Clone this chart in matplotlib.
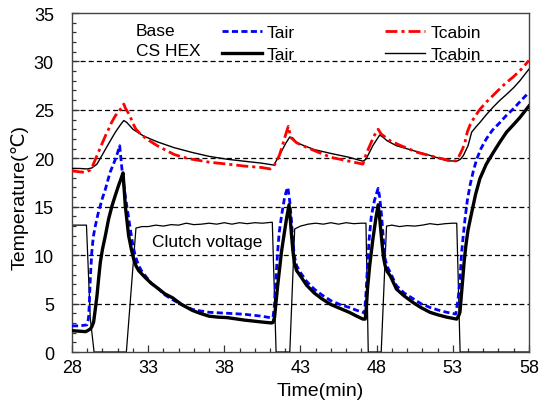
import numpy as np
import matplotlib.pyplot as plt
from matplotlib.lines import Line2D
from matplotlib.ticker import MultipleLocator

plt.rcParams['font.family'] = ['Liberation Sans', 'DejaVu Sans']

# Base - Tair (blue dashed)
base_tair_t = [28.0, 28.5, 28.98, 29.05, 29.1, 29.15, 29.2, 29.3, 29.4, 29.53, 29.7, 29.86,
               30.0, 30.19, 30.5, 30.85, 31.0, 31.13, 31.28, 31.5, 31.83, 32.0, 32.16, 32.38,
               32.6, 32.8, 33.2, 33.7, 34.1, 34.6, 35.2, 35.9, 36.4, 37.0, 38.2, 39.3,
               40.45, 41.0, 41.2, 41.3, 41.37, 41.5, 41.6, 41.75, 41.94, 42.05, 42.17, 42.3,
               42.4, 42.5, 42.6, 42.75, 43.0, 43.4, 43.9, 44.4, 45.0, 45.6, 46.2, 46.7,
               47.1, 47.2, 47.3, 47.4, 47.5, 47.65, 47.85, 48.0, 48.1, 48.2, 48.33, 48.45,
               48.56, 48.7, 48.9, 49.3, 49.8, 50.4, 50.9, 51.5, 52.0, 52.6, 53.2, 53.35,
               53.47, 53.58, 53.7, 53.8, 53.95, 54.13, 54.35, 54.57, 54.85, 55.2, 55.6, 56.1,
               56.5, 56.97, 57.5, 58.0]
base_tair = [2.7, 2.7, 2.8, 3.2, 3.75, 5.5, 7.5, 10.3, 11.9, 13.0, 14.2, 15.1,
             15.9, 16.8, 18.55, 19.9, 20.6, 21.3, 18.9, 16.1, 12.7, 11.0, 9.9, 8.9,
             8.3, 7.9, 7.1, 6.5, 5.9, 5.4, 4.9, 4.4, 4.25, 4.1, 4.0, 3.9,
             3.7, 3.55, 3.6, 5.0, 7.2, 10.3, 12.3, 14.0, 15.8, 16.5, 17.0, 15.5,
             13.7, 11.5, 9.9, 8.9, 8.2, 7.3, 6.5, 5.9, 5.3, 4.9, 4.6, 4.3,
             4.1, 4.0, 6.0, 8.9, 11.5, 14.0, 15.6, 16.4, 16.9, 16.0, 14.0, 11.5,
             9.6, 8.8, 8.2, 6.85, 6.1, 5.5, 5.0, 4.6, 4.35, 4.1, 3.92, 5.5,
             7.5, 10.3, 12.2, 13.7, 15.6, 17.2, 18.7, 19.9, 21.0, 22.0, 22.9, 23.7,
             24.4, 25.1, 26.0, 26.8]

# CS HEX - Tair (thick black)
hex_tair_t = [28.0, 28.5, 28.9, 29.2, 29.3, 29.42, 29.52, 29.64, 29.75, 29.86, 30.0, 30.19,
              30.4, 30.63, 30.85, 31.06, 31.2, 31.35, 31.5, 31.72, 31.9, 32.05, 32.2, 32.38,
              32.8, 33.2, 33.7, 34.1, 34.6, 35.2, 35.9, 36.4, 37.0, 37.6, 38.2, 39.3,
              40.45, 41.1, 41.2, 41.3, 41.37, 41.5, 41.6, 41.75, 41.94, 42.1, 42.25, 42.33,
              42.4, 42.5, 42.6, 42.75, 43.0, 43.4, 43.9, 44.4, 45.0, 45.6, 46.2, 46.7,
              47.1, 47.25, 47.32, 47.4, 47.55, 47.75, 47.95, 48.1, 48.22, 48.33, 48.45, 48.56,
              48.7, 48.9, 49.3, 49.8, 50.4, 50.9, 51.5, 52.0, 52.6, 53.26, 53.4, 53.47,
              53.55, 53.65, 53.75, 53.86, 54.0, 54.24, 54.5, 54.78, 55.2, 55.66, 56.1, 56.53,
              57.0, 57.4, 58.0]
hex_tair = [2.2, 2.15, 2.1, 2.37, 2.6, 3.1, 4.3, 5.8, 7.6, 9.26, 10.6, 12.0,
            13.7, 15.1, 16.2, 17.2, 17.8, 18.5, 15.1, 12.0, 10.6, 9.6, 8.9, 8.4,
            7.7, 7.1, 6.5, 6.0, 5.6, 4.9, 4.3, 4.0, 3.7, 3.6, 3.55, 3.3,
            3.1, 3.0, 3.05, 3.6, 4.75, 6.8, 8.2, 10.3, 12.3, 13.9, 15.2, 13.8,
            12.3, 10.5, 9.2, 8.4, 7.85, 6.9, 6.1, 5.5, 4.9, 4.5, 4.1, 3.7,
            3.4, 3.4, 4.5, 6.5, 9.0, 11.6, 13.8, 15.2, 13.5, 11.6, 9.8, 8.9,
            8.3, 7.85, 6.5, 5.8, 5.1, 4.6, 4.1, 3.85, 3.6, 3.4, 3.8, 4.1,
            5.6, 7.5, 9.4, 11.0, 12.6, 14.4, 16.3, 17.9, 19.4, 20.6, 21.7, 22.7,
            23.5, 24.2, 25.4]

# Base - Tcabin (red dash-dot)
base_tcab_t = [28.0, 28.5, 28.9, 29.2, 29.35, 29.5, 29.7, 29.86, 30.19, 30.4, 30.6, 30.85,
               31.1, 31.3, 31.4, 31.5, 31.8, 32.0, 32.2, 32.5, 32.9, 33.6, 34.2, 34.7,
               35.3, 35.9, 37.0, 38.2, 39.3, 40.45, 41.0, 41.25, 41.4, 41.6, 41.8, 41.94,
               42.1, 42.2, 42.3, 42.4, 42.75, 43.3, 43.9, 45.0, 46.2, 47.1, 47.2, 47.35,
               47.55, 47.8, 48.0, 48.1, 48.3, 48.9, 49.6, 50.7, 51.9, 53.0, 53.25, 53.5,
               53.65, 53.8, 53.95, 54.15, 54.35, 54.75, 55.2, 55.65, 56.1, 56.5, 56.97, 57.5, 58.0]
base_tcab = [18.7, 18.6, 18.55, 18.8, 19.2, 19.75, 20.5, 21.1, 22.3, 23.0, 23.7, 24.4,
             24.9, 25.3, 25.6, 25.2, 24.4, 23.6, 23.0, 22.5, 22.0, 21.3, 20.8, 20.4,
             20.1, 19.9, 19.6, 19.4, 19.2, 19.05, 18.9, 19.2, 19.6, 20.25, 21.2, 22.0,
             22.8, 23.3, 22.6, 22.1, 21.6, 21.2, 20.8, 20.1, 19.7, 19.4, 19.9, 20.6,
             21.3, 22.2, 22.8, 23.0, 22.5, 21.8, 21.3, 20.6, 20.1, 19.7, 19.75, 20.5,
             21.0, 21.65, 22.7, 23.5, 24.05, 25.0, 25.8, 26.5, 27.2, 27.8, 28.4, 29.2, 30.1]

# CS HEX - Tcabin (thin black)
hex_tcab_t = [28.0, 28.5, 29.0, 29.3, 29.64, 29.97, 30.4, 30.85, 31.2, 31.4, 31.6, 32.0,
              32.7, 33.6, 34.7, 35.9, 37.0, 38.2, 39.3, 40.45, 41.25, 41.6, 42.05, 42.3,
              42.5, 42.75, 43.9, 45.0, 46.2, 47.1, 47.3, 47.75, 48.2, 48.4, 48.7, 49.3,
              50.4, 51.5, 52.6, 53.26, 53.5, 53.7, 53.85, 54.0, 54.12, 54.24, 54.5, 54.78,
              55.2, 55.66, 56.1, 56.53, 57.0, 57.4, 58.0]
hex_tcab = [18.95, 18.95, 18.9, 19.0, 19.4, 20.3, 21.5, 22.7, 23.5, 23.9, 23.7, 23.0,
            22.3, 21.7, 21.1, 20.6, 20.2, 19.9, 19.7, 19.5, 19.3, 20.25, 21.6, 22.2,
            22.1, 21.6, 20.9, 20.5, 20.1, 19.7, 19.9, 21.3, 22.4, 22.2, 21.8, 21.3,
            20.8, 20.3, 19.75, 19.7, 19.9, 20.3, 20.8, 21.3, 22.0, 22.7, 23.2, 23.7,
            24.5, 25.3, 26.0, 26.6, 27.3, 28.0, 29.2]

# clutch voltage trace (thin black)
clutch_t = [28.0, 28.95, 29.2, 29.45, 31.57, 32.2, 32.6, 33.0, 33.5, 34.0, 34.5, 35.0,
            35.5, 36.0, 36.5, 37.0, 37.5, 38.0, 38.5, 39.0, 39.5, 40.0, 40.5, 41.15,
            41.4, 42.3, 42.62, 43.0, 43.5, 44.0, 44.5, 45.0, 45.5, 46.0, 46.5, 47.0,
            47.3, 47.45, 48.3, 48.65, 49.0, 49.5, 50.0, 50.5, 51.0, 51.5, 52.0, 52.5,
            53.0, 53.26, 53.48, 58.0]
clutch_v = [13.1, 13.1, 3.5, 0, 0, 12.8, 12.95, 12.95, 13.1, 13.0, 13.15, 13.1,
            13.3, 13.15, 13.2, 13.3, 13.2, 13.35, 13.2, 13.35, 13.25, 13.35, 13.3, 13.4,
            0, 0, 12.7, 13.0, 13.2, 13.3, 13.2, 13.35, 13.2, 13.35, 13.25, 13.3,
            13.3, 0, 0, 13.0, 13.1, 12.95, 13.05, 13.0, 13.1, 13.25, 13.15, 13.25,
            13.3, 13.3, 0, 0]

x_ticks = [28, 33, 38, 43, 48, 53, 58]

fig = plt.figure(figsize=(5.47, 4.06), dpi=100)
ax = fig.add_axes([0.1316, 0.1305, 0.8354, 0.835])

for y in [5, 10, 15, 20, 25, 30]:
    ax.axhline(y, color='k', lw=0.9, linestyle=(0, (4, 2.5)), zorder=1)

blue_ls = (0, (2.2, 1.2))
red_ls = (0, (4.3, 1.45, 1.1, 1.45))
ax.plot(clutch_t, clutch_v, color='k', lw=0.9, zorder=2)
ax.plot(hex_tcab_t, hex_tcab, color='k', lw=1.0, zorder=3)
ax.plot(base_tcab_t, base_tcab, color='#ff0000', lw=2.0, linestyle=red_ls, zorder=3)
ax.plot(base_tair_t, base_tair, color='#0000ff', lw=2.0, linestyle=blue_ls, zorder=4)
ax.plot(hex_tair_t, hex_tair, color='k', lw=2.4, zorder=5)

ax.set_xlim(28, 58)
ax.set_ylim(0, 35)
ax.set_xticks(x_ticks)
ax.xaxis.set_minor_locator(MultipleLocator(1))
ax.yaxis.set_major_locator(MultipleLocator(5))
ax.yaxis.set_minor_locator(MultipleLocator(1))
ax.tick_params(which='both', direction='in', labelsize=13, width=0.9, color='#333333')
ax.tick_params(which='major', length=5)
ax.tick_params(which='minor', length=3)
ax.tick_params(axis='y', pad=13)
ax.tick_params(axis='x', pad=5)
for s in ax.spines.values():
    s.set_color('#444444')
    s.set_linewidth(1.0)

ax.set_xlabel('Time(min)', fontsize=14)
ax.set_ylabel('Temperature(℃)', fontsize=14)
ax.xaxis.set_label_coords(0.543, -0.088)
ax.yaxis.set_label_coords(-0.094, 0.46)

ax.text(0.14, 0.947, 'Base', transform=ax.transAxes, fontsize=12.5, va='center')
ax.text(0.14, 0.889, 'CS HEX', transform=ax.transAxes, fontsize=12.5, va='center')
ax.text(36.86, 11.46, 'Clutch voltage', fontsize=12.5, ha='center', va='center')

handles = [Line2D([], [], color='#0000ff', lw=2.0, linestyle=blue_ls),
           Line2D([], [], color='k', lw=2.4),
           Line2D([], [], color='#ff0000', lw=2.0, linestyle=red_ls),
           Line2D([], [], color='k', lw=1.0)]
labels = ['Tair', 'Tair', 'Tcabin', 'Tcabin']
ax.legend(handles, labels, ncol=2, loc='upper left', bbox_to_anchor=(0.328, 0.965),
          frameon=False, fontsize=12.5, borderpad=0, borderaxespad=0,
          handlelength=2.3, handletextpad=0.3, columnspacing=5.2, labelspacing=0.4)

fig.savefig('out.png', dpi=100)
